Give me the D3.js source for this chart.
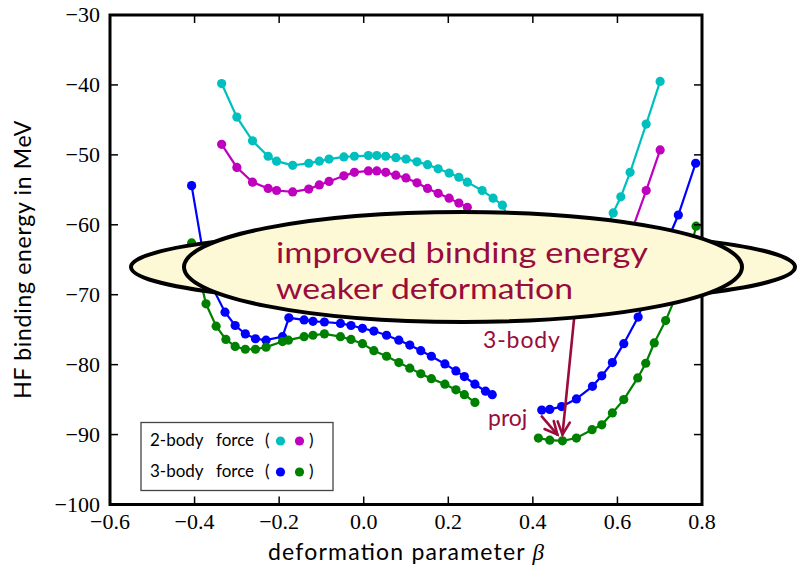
<!DOCTYPE html>
<html><head><meta charset="utf-8">
<script src="https://cdn.jsdelivr.net/npm/d3@7"></script>
<style>body{margin:0;background:#fff}</style>
</head><body>
<svg id="c" width="798" height="569"></svg>
<script>
// ---- data ----
const xTicks = [-0.6,-0.4,-0.2,0.0,0.2,0.4,0.6,0.8];
const yTicks = [-30,-40,-50,-60,-70,-80,-90,-100];

// 2-body force, cyan
const cyanLeftBeta = [-0.336,-0.300,-0.263,-0.226,-0.206,-0.168,-0.130,-0.105,-0.082,-0.047,-0.022,0.011,0.031,0.052,0.076,0.100,0.126,0.151,0.176,0.202,0.225,0.245,0.280,0.306,0.328,0.350];
const cyanLeftE    = [-39.8,-44.6,-48.0,-50.2,-50.9,-51.5,-51.2,-50.9,-50.6,-50.3,-50.2,-50.1,-50.1,-50.2,-50.4,-50.6,-51.0,-51.4,-52.0,-52.6,-53.2,-53.9,-55.1,-56.2,-57.2,-60.0];
const cyanRightBeta = [0.550,0.570,0.590,0.608,0.630,0.668,0.701];
const cyanRightE    = [-64.5,-61.5,-58.3,-56.0,-52.5,-45.6,-39.5];
// 2-body force, magenta
const magLeftBeta = [-0.336,-0.300,-0.263,-0.226,-0.206,-0.168,-0.130,-0.105,-0.082,-0.047,-0.022,0.011,0.031,0.052,0.076,0.100,0.126,0.151,0.176,0.202,0.225,0.245,0.270];
const magLeftE    = [-48.5,-51.8,-53.9,-54.8,-55.1,-55.3,-54.9,-54.3,-53.8,-53.0,-52.5,-52.3,-52.3,-52.5,-52.9,-53.3,-54.0,-54.8,-55.5,-56.2,-56.9,-57.5,-59.5];
const magRightBeta = [0.600,0.630,0.668,0.701];
const magRightE    = [-64.5,-61.5,-55.1,-49.3];
// 3-body force, blue
const blueLeftBeta = [-0.407,-0.370,-0.328,-0.304,-0.280,-0.256,-0.231,-0.192,-0.177,-0.141,-0.120,-0.093,-0.055,-0.030,-0.003,0.024,0.054,0.083,0.109,0.135,0.160,0.192,0.218,0.238,0.263,0.288,0.304];
const blueLeftE    = [-54.4,-67.5,-72.5,-74.4,-75.6,-76.3,-76.5,-76.0,-73.3,-73.6,-73.8,-73.9,-74.1,-74.4,-74.8,-75.2,-75.8,-76.5,-77.2,-78.0,-78.8,-79.9,-80.9,-81.7,-82.8,-83.8,-84.3];
const blueRightBeta = [0.421,0.440,0.468,0.503,0.541,0.563,0.588,0.615,0.649,0.675,0.700,0.720,0.744,0.785];
const blueRightE    = [-86.5,-86.4,-86.0,-84.9,-83.1,-81.6,-79.7,-77.0,-73.2,-69.0,-65.5,-62.0,-58.6,-51.2];
// 3-body force, green
const greenLeftBeta = [-0.407,-0.373,-0.349,-0.326,-0.304,-0.280,-0.256,-0.231,-0.192,-0.178,-0.141,-0.120,-0.093,-0.055,-0.030,-0.003,0.024,0.054,0.083,0.109,0.135,0.160,0.192,0.218,0.238,0.263];
const greenLeftE    = [-62.6,-71.3,-74.5,-76.4,-77.4,-77.8,-77.8,-77.5,-76.7,-76.5,-76.0,-75.8,-75.6,-76.0,-76.4,-77.0,-78.0,-78.8,-79.7,-80.5,-81.3,-82.0,-82.8,-83.6,-84.3,-85.4];
const greenRightBeta = [0.413,0.440,0.470,0.503,0.540,0.563,0.588,0.615,0.648,0.667,0.687,0.714,0.740,0.765,0.786];
const greenRightE    = [-90.5,-90.8,-90.9,-90.5,-89.3,-88.6,-86.9,-85.0,-81.9,-79.8,-76.9,-73.7,-70.0,-65.5,-60.2];

const legendLabels = ["2-body force", "3-body force"];
const legendColors = [["#00bfbf","#bf00bf"],["#0000ff","#008000"]];
const bubbleLines = ["improved binding energy","weaker deformation"];

// ---- drawing ----
const svg = d3.select("#c");
const L=110,R=702,T=15,B=504.5;
const x = d3.scaleLinear().domain([-0.6,0.8]).range([L,R]);
const y = d3.scaleLinear().domain([-100,-30]).range([B,T]);
const red = "#990c3c";

const series = [
  {b:cyanLeftBeta,e:cyanLeftE,c:"#00bfbf"},
  {b:cyanRightBeta,e:cyanRightE,c:"#00bfbf"},
  {b:magLeftBeta,e:magLeftE,c:"#bf00bf"},
  {b:magRightBeta,e:magRightE,c:"#bf00bf"},
  {b:blueLeftBeta,e:blueLeftE,c:"#0000ff"},
  {b:blueRightBeta,e:blueRightE,c:"#0000ff"},
  {b:greenLeftBeta,e:greenLeftE,c:"#008000"},
  {b:greenRightBeta,e:greenRightE,c:"#008000"}
];
const line = d3.line().x(d=>x(d[0])).y(d=>y(d[1]));
series.forEach(s=>{
  const pts = s.b.map((b,i)=>[b,s.e[i]]);
  const g = svg.append("g");
  g.append("path").attr("d",line(pts)).attr("fill","none").attr("stroke",s.c).attr("stroke-width",2.2);
  g.selectAll("circle").data(pts).join("circle")
    .attr("cx",d=>x(d[0])).attr("cy",d=>y(d[1])).attr("r",4.6).attr("fill",s.c);
});

// axes (ticks inward on all four sides)
const ax = svg.append("g");
const tickLen = 8;
xTicks.forEach(t=>{
  ax.append("line").attr("x1",x(t)).attr("x2",x(t)).attr("y1",B).attr("y2",B-tickLen).attr("stroke","#000").attr("stroke-width",1.5);
  ax.append("line").attr("x1",x(t)).attr("x2",x(t)).attr("y1",T).attr("y2",T+tickLen).attr("stroke","#000").attr("stroke-width",1.5);
  ax.append("text").attr("x",x(t)).attr("y",529).attr("text-anchor","middle")
    .attr("font-family","Liberation Serif, serif").attr("font-size",22).text(d3.format(".1f")(t));
});
yTicks.forEach(t=>{
  ax.append("line").attr("x1",L).attr("x2",L+tickLen).attr("y1",y(t)).attr("y2",y(t)).attr("stroke","#000").attr("stroke-width",1.5);
  ax.append("line").attr("x1",R).attr("x2",R-tickLen).attr("y1",y(t)).attr("y2",y(t)).attr("stroke","#000").attr("stroke-width",1.5);
  ax.append("text").attr("x",100).attr("y",y(t)+7).attr("text-anchor","end")
    .attr("font-family","Liberation Serif, serif").attr("font-size",22).text(d3.format("d")(t));
});
ax.append("rect").attr("x",L).attr("y",T).attr("width",R-L).attr("height",B-T)
  .attr("fill","none").attr("stroke","#000").attr("stroke-width",3);

// axis labels
const xl = svg.append("text").attr("x",(L+R)/2).attr("y",560).attr("text-anchor","middle")
  .attr("font-family","Lato, sans-serif").attr("font-size",23).attr("textLength",276);
xl.append("tspan").text("deformation parameter ");
xl.append("tspan").attr("font-family","Liberation Serif, serif").attr("font-style","italic").text("β");
svg.append("text").attr("transform",`translate(31,${(T+B)/2}) rotate(-90)`).attr("text-anchor","middle")
  .attr("font-family","Lato, sans-serif").attr("font-size",23).attr("textLength",278)
  .text("HF binding energy in MeV");

// annotation arrows
function arrow(b0,e0,b1,e1){
  const x0=x(b0),y0=y(e0),x1=x(b1),y1=y(e1);
  const a=Math.atan2(y1-y0,x1-x0), hl=14, ha=0.45;
  const g=svg.append("g").attr("stroke",red).attr("stroke-width",2.6).attr("fill","none").attr("stroke-linecap","round");
  g.append("line").attr("x1",x0).attr("y1",y0).attr("x2",x1).attr("y2",y1);
  g.append("path").attr("d",`M${x1-hl*Math.cos(a-ha)},${y1-hl*Math.sin(a-ha)}L${x1},${y1}L${x1-hl*Math.cos(a+ha)},${y1-hl*Math.sin(a+ha)}`);
}
arrow(0.502,-70.7,0.470,-90.0);
arrow(0.421,-87.4,0.458,-90.0);
svg.append("text").attr("x",x(0.282)).attr("y",348).attr("fill",red)
  .attr("font-family","Lato, sans-serif").attr("font-size",23).attr("textLength",77).text("3-body");
svg.append("text").attr("x",x(0.294)).attr("y",426).attr("fill",red)
  .attr("font-family","Lato, sans-serif").attr("font-size",23).text("proj");

// bubble (two ellipses)
svg.append("ellipse").attr("cx",463).attr("cy",267).attr("rx",332).attr("ry",38)
  .attr("fill","#fdf8d5").attr("stroke","#000").attr("stroke-width",4);
svg.append("ellipse").attr("cx",463).attr("cy",267).attr("rx",279).attr("ry",55)
  .attr("fill","#fdf8d5").attr("stroke","#000").attr("stroke-width",4);
const bt = svg.append("text").attr("fill",red)
  .attr("font-family","Lato, sans-serif").attr("font-size",29.5);
bubbleLines.forEach((t,i)=>{
  bt.append("tspan").attr("x",276).attr("y",263+i*36)
    .attr("textLength", i===0?372:297).attr("lengthAdjust","spacingAndGlyphs").text(t);
});

// legend
const lg = svg.append("g");
lg.append("rect").attr("x",141).attr("y",422.5).attr("width",192).attr("height",68)
  .attr("fill","#fff").attr("stroke","#444").attr("stroke-width",1.3);
legendLabels.forEach((lab,i)=>{
  const by = 446 + i*31;
  const parts = lab.split(" ");
  const tx = lg.append("text").attr("y",by).attr("font-family","Lato, sans-serif").attr("font-size",17);
  tx.append("tspan").attr("x",150).text(parts[0]);
  tx.append("tspan").attr("x",216).text(parts[1]);
  tx.append("tspan").attr("x",265).text("(");
  tx.append("tspan").attr("x",309).text(")");
  legendColors[i].forEach((c,j)=>{
    lg.append("circle").attr("cx",280.5+j*19).attr("cy",by-5).attr("r",4.6).attr("fill",c);
  });
});
</script>
</body></html>
